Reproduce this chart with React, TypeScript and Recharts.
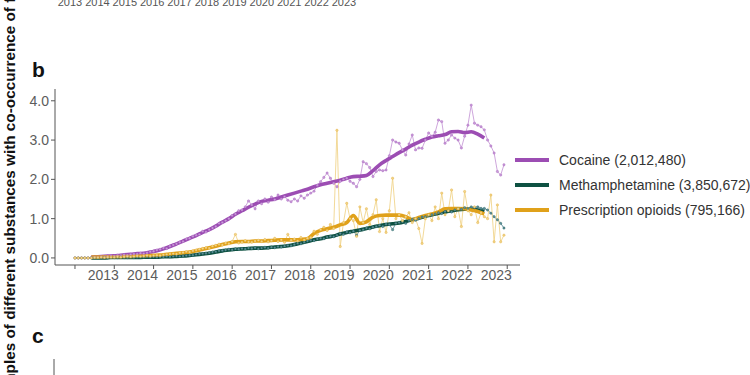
import { LineChart, Line, XAxis, YAxis } from "recharts";

// monthly observations, index 0 = first month of 2012
const START_YEAR = 2012;
const YEAR_TICKS = [0, 12, 24, 36, 48, 60, 72, 84, 96, 108, 120, 132];
const Y_TICKS = [0, 0.5, 1, 1.5, 2, 2.5, 3, 3.5, 4];
const PANEL_A_YEARS = ["2013", "2014", "2015", "2016", "2017", "2018", "2019", "2020", "2021", "2022", "2023"];

const cocaineRaw = [
  0, 0, 0, 0, 0, 0.01, 0.02, 0.02, 0.03, 0.03, 0.04, 0.05,
  0.05, 0.06, 0.06, 0.08, 0.07, 0.09, 0.1, 0.1, 0.12, 0.11, 0.13, 0.16,
  0.17, 0.2, 0.22, 0.25, 0.24, 0.3, 0.33, 0.36, 0.4, 0.42, 0.48, 0.5,
  0.55, 0.58, 0.6, 0.68, 0.66, 0.72, 0.76, 0.8, 0.88, 0.9, 0.95, 1.0,
  1.08, 1.12, 1.2, 1.22, 1.3, 1.45, 1.35, 1.25, 1.45, 1.38, 1.5, 1.42,
  1.55, 1.48, 1.6, 1.5, 1.56, 1.47, 1.43, 1.5, 1.45, 1.58, 1.52, 1.6,
  1.65, 1.7, 1.85, 1.94, 2.05, 2.16, 2.03, 1.9, 1.81, 1.95, 2.0, 2.03,
  1.95, 1.9, 1.81, 2.0, 2.45, 2.4, 2.3, 2.07, 2.2, 2.24, 2.22, 2.24,
  2.6, 3.0, 2.95, 2.92, 2.75, 2.62, 2.9, 3.13, 2.75, 2.8, 2.79, 3.0,
  3.18, 3.1, 3.2, 3.51, 3.47, 2.92, 3.0, 3.13, 3.05, 3.0, 2.8, 3.1,
  3.38, 3.89, 3.43, 3.38, 3.34, 3.26, 3.0, 2.85, 2.67, 2.2, 2.11, 2.37,
];

const methRaw = [
  0, 0, 0, 0, 0, 0, 0, 0, 0, 0.01, 0, 0.01,
  0.01, 0.01, 0.02, 0.01, 0.01, 0.02, 0.01, 0.02, 0.02, 0.02, 0.03, 0.02,
  0.03, 0.02, 0.03, 0.03, 0.04, 0.03, 0.04, 0.05, 0.04, 0.05, 0.06, 0.07,
  0.07, 0.09, 0.1, 0.11, 0.12, 0.13, 0.15, 0.16, 0.18, 0.19, 0.2, 0.22,
  0.21, 0.23, 0.22, 0.24, 0.23, 0.25, 0.24, 0.26, 0.23, 0.25, 0.27, 0.25,
  0.27, 0.26, 0.29, 0.28, 0.3, 0.32, 0.31, 0.34, 0.37, 0.36, 0.4, 0.43,
  0.45, 0.44, 0.48, 0.5, 0.49, 0.53, 0.55, 0.54, 0.58, 0.62, 0.6, 0.66,
  0.64, 0.68, 0.58, 0.7, 0.72, 0.76, 0.74, 0.78, 0.8, 0.83, 0.8, 0.86,
  0.85, 0.72, 0.88, 0.9, 0.92, 0.88, 0.95, 0.98, 0.96, 1.0, 1.04, 1.05,
  1.08, 1.1, 1.12, 1.15, 1.13, 1.18, 1.2, 1.17, 1.22, 1.25, 1.24, 1.28,
  1.25, 1.3, 1.28, 1.3, 1.26, 1.26, 1.22, 1.14, 1.05, 0.97, 0.88, 0.76,
];

const opioidRaw = [
  0, 0, 0, 0, 0, 0, 0.01, 0.01, 0.02, 0.01, 0.02, 0.02,
  0.02, 0.03, 0.02, 0.03, 0.04, 0.03, 0.04, 0.05, 0.04, 0.05, 0.06, 0.05,
  0.06, 0.07, 0.06, 0.08, 0.09, 0.1, 0.11, 0.1, 0.13, 0.14, 0.16, 0.15,
  0.18, 0.2, 0.22, 0.24, 0.26, 0.25, 0.3, 0.32, 0.35, 0.33, 0.38, 0.36,
  0.42, 0.6, 0.38, 0.4, 0.44, 0.41, 0.4, 0.43, 0.45, 0.42, 0.47, 0.41,
  0.44, 0.5, 0.42, 0.46, 0.4, 0.6, 0.45, 0.48, 0.43, 0.52, 0.46, 0.5,
  0.52, 0.68, 0.6, 0.72, 0.78, 0.7, 0.85, 0.75, 3.25, 0.29, 0.9, 1.39,
  1.0, 0.95, 0.55, 1.3, 0.9, 1.25, 0.85, 1.1, 1.48, 0.67, 1.0, 0.65,
  1.2, 2.03, 1.0, 1.1, 0.95, 1.05, 1.15, 0.9, 1.0, 0.75, 0.37, 1.0,
  1.1, 0.95, 1.3, 1.0, 1.65, 1.1, 1.2, 1.73, 1.05, 1.25, 0.8, 1.69,
  1.2, 1.1, 1.3, 0.9, 1.15, 1.05, 1.0, 1.6, 0.41, 1.35, 0.41, 0.58,
];

// smoothed trend, every 2nd month from month 5 to month 125
const cocaineSmooth = [
  0.02, 0.03, 0.04, 0.05, 0.06, 0.08, 0.09, 0.11, 0.12, 0.15,
  0.18, 0.23, 0.29, 0.36, 0.43, 0.5, 0.57, 0.65, 0.72, 0.81,
  0.91, 1.0, 1.11, 1.2, 1.29, 1.37, 1.44, 1.47, 1.5, 1.55,
  1.6, 1.65, 1.7, 1.75, 1.81, 1.86, 1.9, 1.94, 1.98, 2.03,
  2.07, 2.08, 2.1, 2.22, 2.37, 2.48, 2.58, 2.68, 2.77, 2.87,
  2.95, 3.02, 3.08, 3.11, 3.14, 3.21, 3.22, 3.19, 3.21, 3.15, 3.05,
];

const methSmooth = [
  0, 0, 0, 0.01, 0.01, 0.01, 0.01, 0.01, 0.02, 0.02,
  0.02, 0.03, 0.03, 0.04, 0.05, 0.06, 0.08, 0.1, 0.12, 0.15,
  0.18, 0.2, 0.22, 0.23, 0.24, 0.25, 0.25, 0.26, 0.28, 0.29,
  0.31, 0.34, 0.38, 0.42, 0.46, 0.49, 0.53, 0.56, 0.61, 0.65,
  0.68, 0.71, 0.75, 0.79, 0.82, 0.85, 0.87, 0.89, 0.93, 0.97,
  1.01, 1.06, 1.1, 1.14, 1.17, 1.2, 1.23, 1.24, 1.24, 1.22, 1.18,
];

const opioidSmooth = [
  0.02, 0.02, 0.03, 0.03, 0.03, 0.04, 0.04, 0.05, 0.05, 0.06,
  0.07, 0.08, 0.1, 0.12, 0.13, 0.15, 0.18, 0.22, 0.26, 0.3,
  0.34, 0.38, 0.41, 0.42, 0.42, 0.43, 0.43, 0.44, 0.45, 0.46,
  0.46, 0.46, 0.47, 0.49, 0.62, 0.7, 0.74, 0.78, 0.84, 0.9,
  1.08, 0.88, 0.92, 1.04, 1.08, 1.09, 1.09, 1.09, 1.05, 0.97,
  1.03, 1.08, 1.12, 1.17, 1.25, 1.26, 1.26, 1.25, 1.22, 1.18, 1.12,
];

const SERIES = [
  { name: "Cocaine", count: "2,012,480", color: "#9c4db3", light: "#c89cd8", raw: cocaineRaw, smooth: cocaineSmooth },
  { name: "Methamphetamine", count: "3,850,672", color: "#0e5142", light: "#5f8f9c", raw: methRaw, smooth: methSmooth },
  { name: "Prescription opioids", count: "795,166", color: "#e0a11a", light: "#f1d58c", raw: opioidRaw, smooth: opioidSmooth },
];

const toRows = (values: number[], first: number, step: number) =>
  values.map((v, i) => ({ m: first + i * step, v }));

const FONT = "'Liberation Sans', Arial, sans-serif";
const AXIS = "#555555";
const TICK_TEXT = "#5c5c5c";

function YearTick(props: any) {
  const { x, y, payload } = props;
  const k = YEAR_TICKS.indexOf(payload.value);
  if (k <= 0) return <g />;
  return (
    <text x={x - 11} y={y + 9} textAnchor="middle" fill={TICK_TEXT} fontSize={14} fontFamily={FONT}>
      {START_YEAR + k}
    </text>
  );
}

export default function App() {
  return (
    <div
      style={{
        position: "fixed",
        left: 0,
        top: 0,
        width: 750,
        height: 375,
        overflow: "hidden",
        background: "#ffffff",
        fontFamily: FONT,
      }}
    >
      <LineChart width={750} height={375} margin={{ top: 89, right: 230, bottom: 80, left: 10 }}>
        <XAxis
          type="number"
          dataKey="m"
          domain={[-6.1, 135.9]}
          ticks={YEAR_TICKS}
          tick={<YearTick />}
          tickSize={4}
          tickMargin={2}
          height={30}
          stroke={AXIS}
          allowDataOverflow
        />
        <YAxis
          type="number"
          domain={[-0.18, 4.3]}
          ticks={Y_TICKS}
          tickFormatter={(v: number) => v.toFixed(1)}
          tick={{ fill: TICK_TEXT, fontSize: 14, fontFamily: FONT }}
          tickSize={4}
          tickMargin={2}
          width={45}
          stroke={AXIS}
          allowDataOverflow
        />
        {SERIES.map((s) => (
          <Line
            key={s.name + "-raw"}
            data={toRows(s.raw, 0, 1)}
            dataKey="v"
            type="linear"
            stroke={s.light}
            strokeWidth={0.9}
            dot={{ r: 1.2, fill: s.light, stroke: s.color, strokeWidth: 0.3 }}
            activeDot={false}
            isAnimationActive={false}
          />
        ))}
        {SERIES.map((s) => (
          <Line
            key={s.name + "-smooth"}
            data={toRows(s.smooth, 5, 2)}
            dataKey="v"
            type="monotone"
            stroke={s.color}
            strokeWidth={3.6}
            dot={false}
            activeDot={false}
            isAnimationActive={false}
          />
        ))}
      </LineChart>

      <div style={{ position: "absolute", left: 515, top: 147 }}>
        {SERIES.map((s) => (
          <div key={s.name} style={{ display: "flex", alignItems: "center", height: 25 }}>
            <div style={{ width: 34, height: 4, background: s.color, marginRight: 10 }} />
            <span style={{ fontSize: 14, color: "#333333", whiteSpace: "nowrap" }}>
              {s.name} ({s.count})
            </span>
          </div>
        ))}
      </div>

      <svg width={750} height={375} style={{ position: "absolute", left: 0, top: 0, pointerEvents: "none" }}>
        {PANEL_A_YEARS.map((yr, i) => (
          <text key={yr} x={70 + i * 27.4} y={6} textAnchor="middle" fontSize={11} fill="#555555" fontFamily={FONT}>
            {yr}
          </text>
        ))}
        <text
          transform="translate(15,404) rotate(-90)"
          fontSize={15.3}
          fontWeight="bold"
          fill="#111111"
          fontFamily={FONT}
        >
          samples of different substances with co-occurrence of fentanyl
        </text>
        <text x={32} y={77} fontSize={21} fontWeight="bold" fill="#111111" fontFamily={FONT}>
          b
        </text>
        <text x={32} y={343} fontSize={21} fontWeight="bold" fill="#111111" fontFamily={FONT}>
          c
        </text>
        <line x1={54} y1={359} x2={54} y2={375} stroke={AXIS} strokeWidth={1} />
      </svg>
    </div>
  );
}
